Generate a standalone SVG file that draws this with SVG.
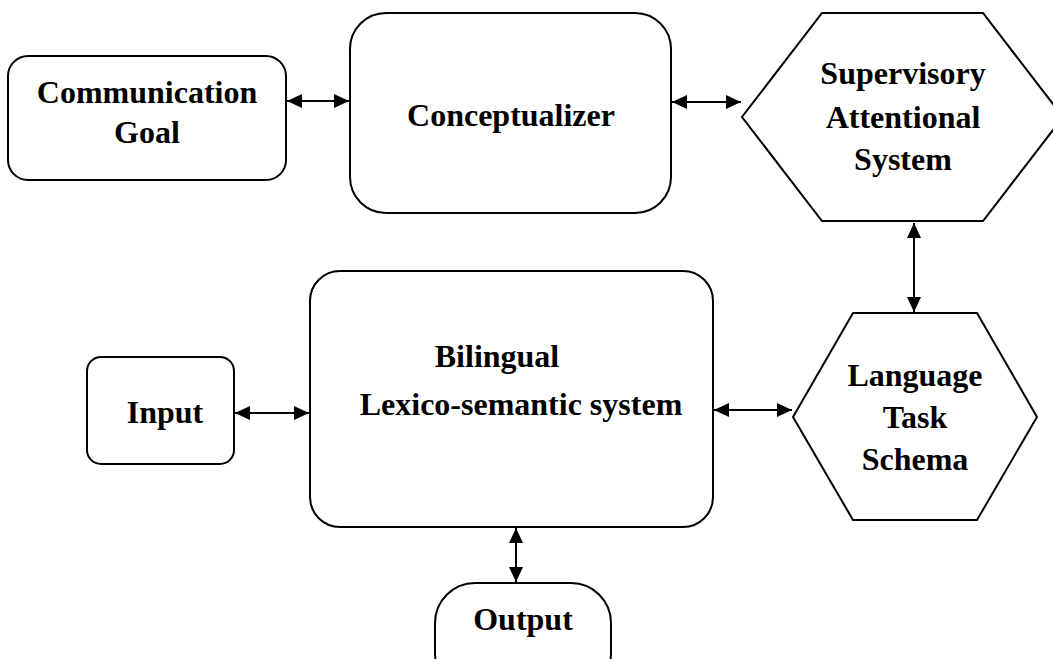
<svg xmlns="http://www.w3.org/2000/svg" width="1053" height="659" viewBox="0 0 1053 659">
<defs>
<marker id="ah" viewBox="0 0 15 14" refX="15" refY="7" markerWidth="15" markerHeight="14" markerUnits="userSpaceOnUse" orient="auto-start-reverse">
<path d="M0,0 L15,7 L0,14 Z" fill="#000"/>
</marker>
<style>
.shape{fill:#fff;stroke:#000;stroke-width:2}
.lbl{font-family:'Liberation Serif','DejaVu Serif',serif;font-weight:700;font-size:32px;fill:#000;text-anchor:middle}
.conn{stroke:#000;stroke-width:2;fill:none;marker-start:url(#ah);marker-end:url(#ah)}
</style>
</defs>
<rect width="1053" height="659" fill="#fff"/>
<g id="communication-goal">
<rect class="shape" x="8" y="56" width="278" height="124" rx="20"/>
<text class="lbl" x="147" y="103">Communication</text>
<text class="lbl" x="147" y="143">Goal</text>
</g>
<g id="conceptualizer">
<rect class="shape" x="350" y="13" width="321" height="200" rx="36"/>
<text class="lbl" x="511" y="126">Conceptualizer</text>
</g>
<g id="supervisory-attentional-system">
<polygon class="shape" points="822,13 983,13 1063,117 983,221 822,221 742,117"/>
<text class="lbl" x="903" y="84">Supervisory</text>
<text class="lbl" x="903" y="128">Attentional</text>
<text class="lbl" x="903" y="170">System</text>
</g>
<g id="bilingual-lexico-semantic-system">
<rect class="shape" x="310" y="271" width="403" height="256" rx="30"/>
<text class="lbl" x="497" y="367">Bilingual</text>
<text class="lbl" x="521" y="415">Lexico-semantic system</text>
</g>
<g id="input">
<rect class="shape" x="87" y="357" width="147" height="107" rx="14"/>
<text class="lbl" x="165" y="423">Input</text>
</g>
<g id="language-task-schema">
<polygon class="shape" points="853,313 977,313 1037,417 977,520 853,520 793,417"/>
<text class="lbl" x="915" y="386">Language</text>
<text class="lbl" x="915" y="428">Task</text>
<text class="lbl" x="915" y="470">Schema</text>
</g>
<g id="output">
<rect class="shape" x="435" y="583" width="176" height="110" rx="40"/>
<text class="lbl" x="523" y="630">Output</text>
</g>
<g id="connectors">
<line class="conn" x1="287" y1="101" x2="349" y2="101"/>
<line class="conn" x1="672" y1="102" x2="741" y2="102"/>
<line class="conn" x1="914" y1="223" x2="914" y2="312"/>
<line class="conn" x1="235" y1="413" x2="309" y2="413"/>
<line class="conn" x1="714" y1="410" x2="792" y2="410"/>
<line class="conn" x1="516" y1="528" x2="516" y2="582"/>
</g>
</svg>
